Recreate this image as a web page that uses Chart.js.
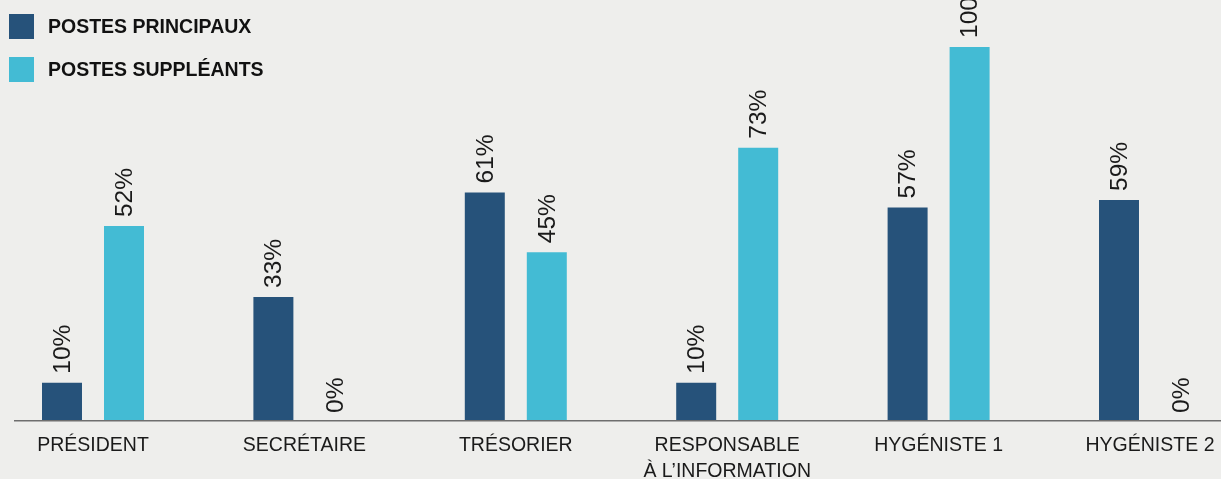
<!DOCTYPE html>
<html>
<head>
<meta charset="utf-8">
<script src="https://cdn.jsdelivr.net/npm/chart.js@4.4.1/dist/chart.umd.min.js"></script>
<style>
  html, body { margin: 0; padding: 0; background: #eeeeec; }
  #wrap { position: relative; width: 1221px; height: 479px; overflow: hidden; background: #eeeeec; }
  canvas { position: absolute; left: 0; top: 0; }
  .lg { position: absolute; left: 9px; display: flex; align-items: center; font-family: 'Liberation Sans', Arial, sans-serif; font-weight: bold; font-size: 19.5px; color: #111; }
  .lg span.sw { display: inline-block; width: 25px; height: 25px; margin-right: 14px; }
</style>
</head>
<body>
<div id="wrap">
  <canvas id="c" width="1221" height="479"></canvas>
  <div class="lg" style="top:14px"><span class="sw" style="background:#26527a"></span>POSTES PRINCIPAUX</div>
  <div class="lg" style="top:57px"><span class="sw" style="background:#43bbd4"></span>POSTES SUPPLÉANTS</div>
</div>
<script>
const categories = ["PRÉSIDENT", "SECRÉTAIRE", "TRÉSORIER", ["RESPONSABLE", "À L’INFORMATION"], "HYGÉNISTE 1", "HYGÉNISTE 2"];
const seriesNames = ["POSTES PRINCIPAUX", "POSTES SUPPLÉANTS"];
const principaux = [10, 33, 61, 10, 57, 59];
const suppleants = [52, 0, 45, 73, 100, 0];

const FONT = "'Liberation Sans', Arial, sans-serif";

const valueLabels = {
  id: 'valueLabels',
  afterDatasetsDraw(chart) {
    const ctx = chart.ctx;
    ctx.save();
    ctx.fillStyle = '#1a1a1a';
    ctx.font = '24.5px ' + FONT;
    ctx.textAlign = 'left';
    ctx.textBaseline = 'middle';
    chart.data.datasets.forEach((ds, di) => {
      const meta = chart.getDatasetMeta(di);
      meta.data.forEach((el, i) => {
        const gap = ds.data[i] === 0 ? 7 : 9;
        ctx.save();
        ctx.translate(el.x + 1, el.y - gap);
        ctx.rotate(-Math.PI / 2);
        ctx.fillText(ds.data[i] + '%', 0, 0);
        ctx.restore();
      });
    });
    ctx.restore();
  }
};

const baseline = {
  id: 'baseline',
  afterDatasetsDraw(chart) {
    const ctx = chart.ctx;
    const y = chart.scales.y.getPixelForValue(0);
    ctx.save();
    ctx.strokeStyle = '#6e6e6e';
    ctx.lineWidth = 1.6;
    ctx.beginPath();
    ctx.moveTo(14, y + 0.8);
    ctx.lineTo(1221, y + 0.8);
    ctx.stroke();
    ctx.restore();
  }
};

new Chart(document.getElementById('c'), {
  type: 'bar',
  data: {
    labels: categories,
    datasets: [
      { label: seriesNames[0], data: principaux, backgroundColor: '#26527a', clip: false },
      { label: seriesNames[1], data: suppleants, backgroundColor: '#43bbd4', clip: false }
    ]
  },
  options: {
    responsive: false,
    devicePixelRatio: 1,
    animation: false,
    categoryPercentage: 0.5866,
    barPercentage: 0.645,
    layout: { padding: { left: 93, right: 71, top: 47, bottom: 0 } },
    plugins: { legend: { display: false }, tooltip: { enabled: false } },
    scales: {
      x: {
        offset: false,
        grid: { display: false, drawTicks: false },
        border: { display: false },
        ticks: {
          color: '#1a1a1a',
          font: { family: FONT, size: 19.5, lineHeight: 1.33 },
          padding: 13,
          maxRotation: 0,
          autoSkip: false
        },
        afterFit(scale) {
          scale.height = 59;
          scale.paddingLeft = 0;
          scale.paddingRight = 0;
        }
      },
      y: {
        display: false,
        min: 0,
        max: 100
      }
    }
  },
  plugins: [valueLabels, baseline]
});
</script>
</body>
</html>
